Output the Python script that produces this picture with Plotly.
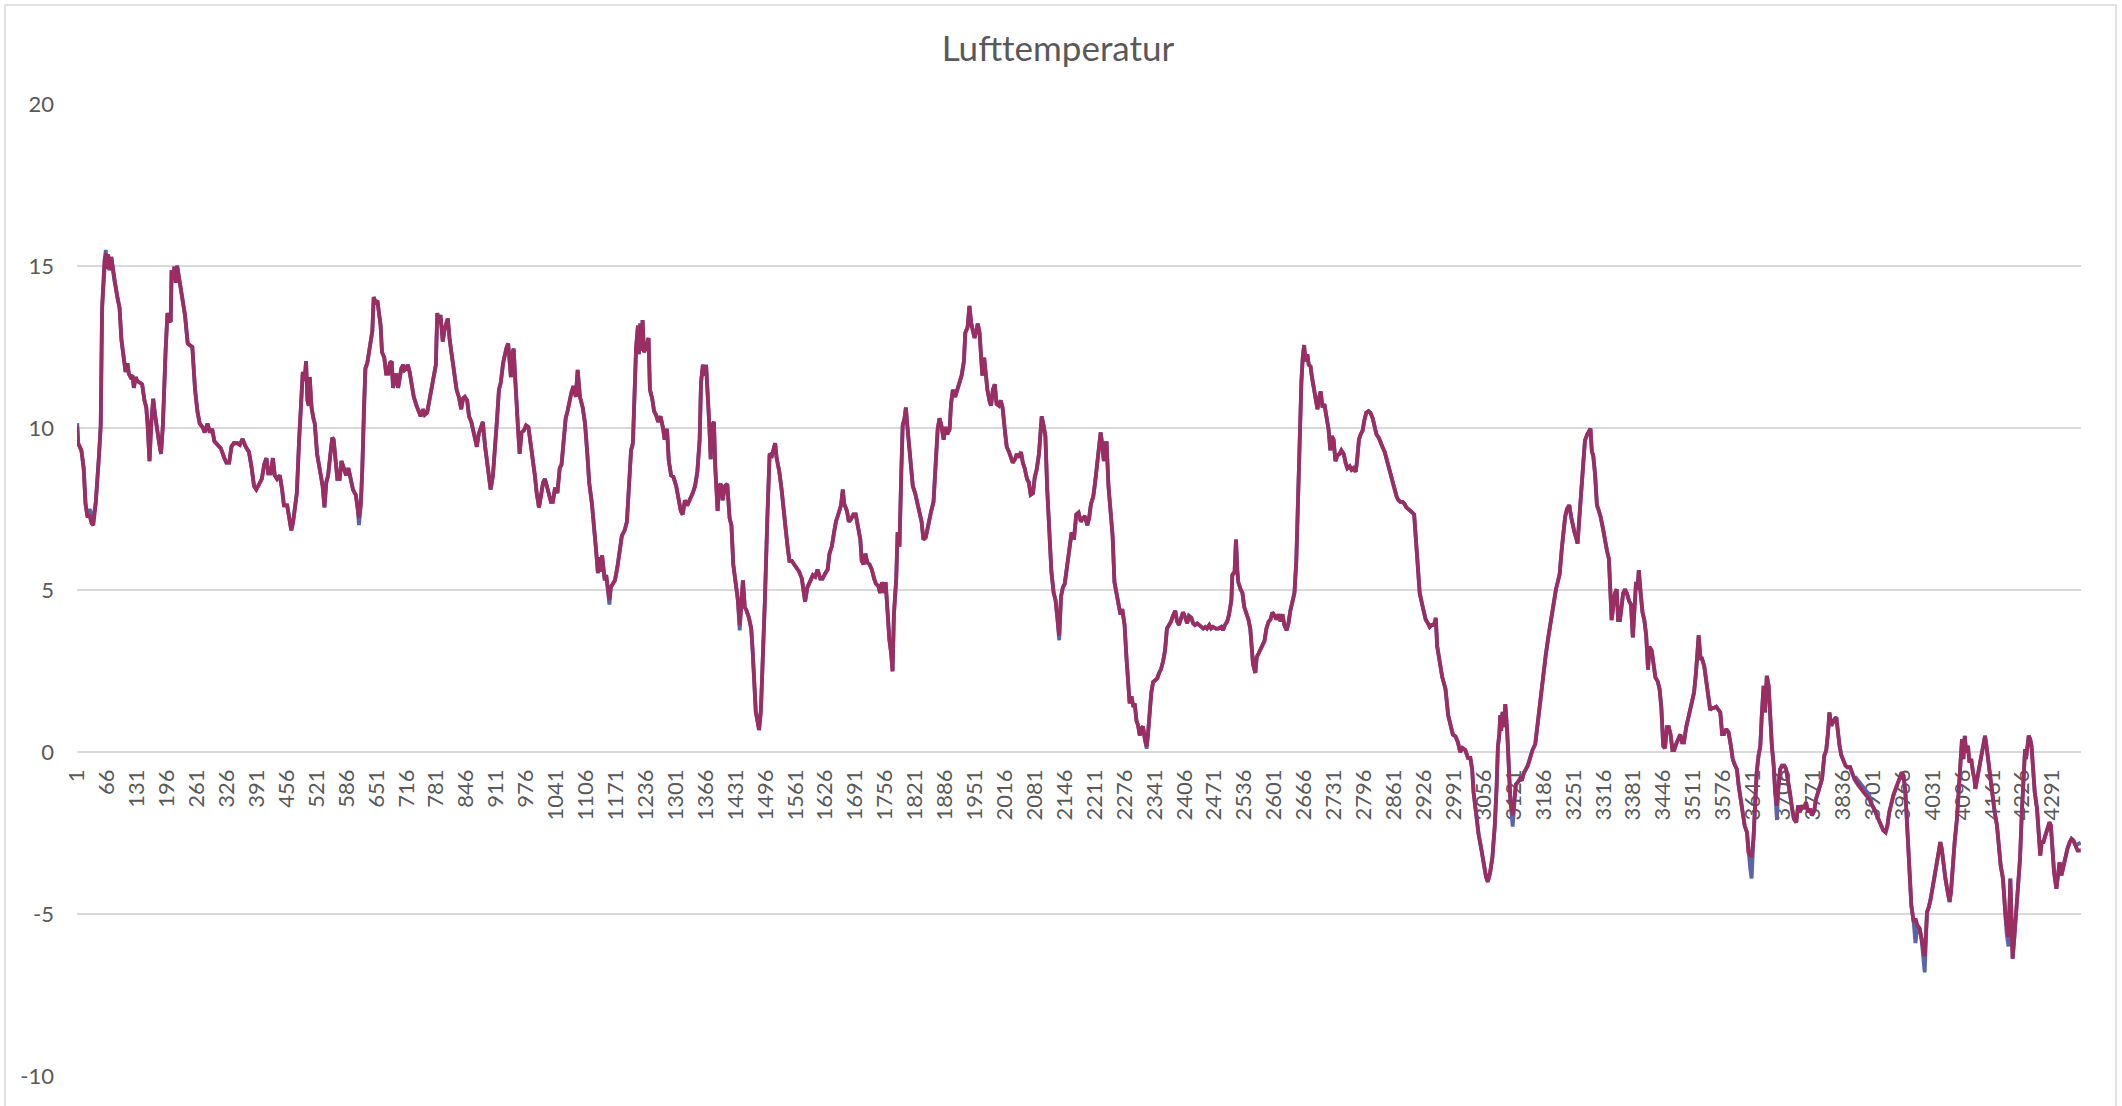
import plotly.graph_objects as go

# ---------------- data ----------------
n_categories = 4353  # number of hourly readings on the category axis

tick_labels = [1, 66, 131, 196, 261, 326, 391, 456, 521, 586, 651, 716, 781, 846, 911, 976,
               1041, 1106, 1171, 1236, 1301, 1366, 1431, 1496, 1561, 1626, 1691, 1756, 1821,
               1886, 1951, 2016, 2081, 2146, 2211, 2276, 2341, 2406, 2471, 2536, 2601, 2666,
               2731, 2796, 2861, 2926, 2991, 3056, 3121, 3186, 3251, 3316, 3381, 3446, 3511,
               3576, 3641, 3706, 3771, 3836, 3901, 3966, 4031, 4096, 4161, 4226, 4291]

# traced turning points of the series (category index, temperature)
idx_a = [1, 3, 10, 15, 19, 23, 28, 32, 36, 41, 48, 52, 55, 60, 63, 65, 68, 71, 75, 81, 88, 93, 97,
         102, 106, 110, 113, 117, 121, 124, 128, 131, 136, 142, 147, 151, 154, 158, 162, 166, 170,
         175, 179, 183, 187, 193, 197, 200, 204, 206, 209, 212, 215, 218, 223, 229, 235, 241, 245,
         251, 257, 262, 267, 273, 278, 284, 289, 294, 299, 305, 313, 320, 325, 331, 336, 341, 349,
         354, 360, 367, 374, 380, 385, 390, 396, 402, 407, 412, 416, 421, 426, 430, 435, 441, 446,
         450, 457, 461, 466, 470, 474, 478, 483, 488, 491, 495, 498, 501, 504, 506, 510, 514, 517,
         522, 526, 530, 534, 538, 542, 546, 551, 555, 558, 562, 566, 571, 575, 580, 585, 590, 595,
         600, 606, 610, 613, 617, 620, 624, 627, 631, 634, 638, 642, 645, 649, 653, 656, 660, 663,
         668, 672, 677, 680, 684, 687, 691, 694, 698, 701, 705, 709, 712, 716, 719, 723, 727, 732,
         738, 742, 747, 752, 756, 761, 766, 772, 777, 780, 783, 787, 790, 792, 795, 799, 803, 806,
         810, 816, 821, 825, 830, 835, 839, 843, 848, 852, 857, 861, 865, 869, 873, 878, 882, 887,
         891, 895, 899, 904, 908, 913, 917, 921, 926, 930, 933, 937, 940, 943, 946, 949, 952, 955,
         959, 962, 966, 971, 976, 981, 985, 989, 995, 999, 1004, 1008, 1013, 1017, 1021, 1026,
         1030, 1034, 1039, 1044, 1049, 1053, 1058, 1062, 1066, 1071, 1075, 1079, 1084, 1088]
val_a = [10.05, 9.53, 9.31, 8.76, 7.66, 7.28, 7.28, 7.06, 7.0, 7.66, 9.09, 10.08, 13.7, 15.14, 15.4,
         14.92, 15.36, 14.87, 15.28, 14.6, 14.04, 13.7, 12.72, 12.17, 11.73, 12.0, 11.68, 11.57,
         11.62, 11.24, 11.57, 11.46, 11.4, 11.35, 10.85, 10.63, 10.08, 8.98, 10.19, 10.9, 10.41,
         9.81, 9.53, 9.2, 10.08, 12.39, 13.55, 13.33, 13.27, 14.87, 14.59, 14.98, 14.48, 15.01,
         14.6, 14.15, 13.49, 12.61, 12.56, 12.5, 11.18, 10.52, 10.14, 10.03, 9.86, 10.14, 9.86,
         9.97, 9.59, 9.48, 9.37, 9.09, 8.93, 8.93, 9.42, 9.53, 9.53, 9.48, 9.66, 9.42, 9.26, 8.76,
         8.21, 8.1, 8.27, 8.43, 8.87, 9.07, 8.6, 8.6, 9.07, 8.54, 8.43, 8.54, 8.1, 7.61, 7.61, 7.33,
         6.84, 7.11, 7.66, 7.99, 9.64, 11.18, 11.73, 11.46, 12.06, 10.85, 10.69, 11.57, 10.63, 10.3,
         10.14, 9.2, 8.76, 8.54, 8.21, 7.55, 8.32, 8.54, 9.2, 9.7, 9.64, 8.98, 8.43, 8.43, 8.98,
         8.76, 8.54, 8.76, 8.43, 8.1, 7.94, 7.55, 7.22, 7.66, 8.65, 10.74, 11.84, 12.0, 12.28,
         12.72, 12.99, 14.04, 13.88, 13.93, 13.66, 13.16, 12.34, 12.17, 11.68, 11.68, 12.0, 12.06,
         11.24, 11.57, 11.68, 11.24, 11.51, 11.84, 11.95, 11.79, 11.84, 11.95, 11.73, 11.4, 10.96,
         10.69, 10.52, 10.36, 10.58, 10.41, 10.47, 10.85, 11.29, 11.57, 11.95, 13.55, 13.22, 13.49,
         13.16, 12.67, 13.05, 13.27, 13.38, 12.72, 12.17, 11.62, 11.18, 10.96, 10.58, 10.91, 10.96,
         10.85, 10.36, 10.19, 9.97, 9.7, 9.42, 9.81, 10.08, 10.19, 9.42, 8.98, 8.43, 8.1, 8.54, 9.2,
         10.3, 11.18, 11.4, 12.0, 12.28, 12.45, 12.61, 12.17, 11.57, 12.28, 12.45, 11.62, 10.63,
         9.86, 9.2, 9.86, 9.92, 10.08, 10.03, 9.64, 9.2, 8.54, 7.99, 7.55, 7.88, 8.32, 8.43, 8.21,
         7.99, 7.72, 7.72, 8.16, 7.99, 8.76, 8.87, 9.86, 10.3, 10.52, 10.96, 11.13, 11.29, 10.96,
         11.79]

idx_b = [1093, 1099, 1104, 1109, 1113, 1119, 1124, 1128, 1132, 1135, 1138, 1141, 1144, 1147, 1150,
         1153, 1157, 1160, 1164, 1169, 1174, 1180, 1184, 1190, 1195, 1199, 1204, 1208, 1211, 1215,
         1219, 1221, 1224, 1227, 1229, 1232, 1237, 1242, 1245, 1250, 1254, 1258, 1263, 1268, 1273,
         1277, 1282, 1286, 1291, 1296, 1302, 1307, 1312, 1316, 1321, 1326, 1332, 1338, 1343, 1348,
         1353, 1356, 1360, 1363, 1367, 1371, 1374, 1377, 1380, 1384, 1387, 1392, 1395, 1399, 1403,
         1408, 1413, 1418, 1422, 1426, 1431, 1436, 1440, 1444, 1447, 1451, 1455, 1460, 1465, 1468,
         1472, 1475, 1478, 1482, 1486, 1490, 1495, 1500, 1505, 1510, 1513, 1517, 1520, 1526, 1531,
         1535, 1539, 1544, 1548, 1553, 1558, 1564, 1569, 1575, 1578, 1582, 1587, 1593, 1599, 1604,
         1609, 1615, 1620, 1626, 1631, 1635, 1640, 1645, 1649, 1654, 1660, 1664, 1667, 1673, 1677,
         1681, 1687, 1692, 1697, 1702, 1705, 1709, 1713, 1717, 1722, 1727, 1732, 1736, 1741, 1745,
         1749, 1754, 1757, 1761, 1765, 1769, 1772, 1775, 1780, 1783, 1787, 1791, 1794, 1798, 1801,
         1804, 1807, 1812, 1816, 1821, 1826, 1830, 1835, 1839, 1844, 1848, 1852, 1856, 1861, 1866,
         1870, 1874, 1878, 1883, 1887, 1891, 1896, 1899, 1903, 1908, 1913, 1917, 1922, 1927, 1930,
         1935, 1939, 1943, 1946, 1950, 1954, 1957, 1961, 1964, 1967, 1971, 1975, 1978, 1983, 1986,
         1990, 1994, 1998, 2003, 2007, 2011, 2016, 2020, 2025, 2029, 2033, 2038, 2042, 2046, 2051,
         2055, 2059, 2064, 2068, 2072, 2077, 2081, 2085, 2090, 2093, 2096, 2100, 2104, 2108, 2113,
         2117, 2122, 2126, 2130, 2134, 2138, 2142, 2146, 2151, 2155]
val_b = [10.96, 10.63, 10.14, 9.2, 8.32, 7.66, 7.0, 6.23, 5.52, 6.01, 5.57, 6.07, 5.68, 5.3, 5.46,
         5.08, 4.69, 5.08, 5.19, 5.3, 5.68, 6.23, 6.67, 6.84, 7.11, 8.1, 9.31, 9.53, 11.18, 12.5,
         13.16, 12.28, 13.22, 12.39, 13.33, 12.34, 12.5, 12.78, 11.18, 10.9, 10.52, 10.41, 10.19,
         10.36, 10.03, 9.64, 9.97, 8.98, 8.54, 8.49, 8.21, 7.88, 7.44, 7.33, 7.77, 7.61, 7.77, 7.99,
         8.21, 8.65, 9.64, 11.4, 11.95, 11.62, 11.95, 11.07, 10.08, 9.04, 10.08, 10.19, 8.76, 7.44,
         8.21, 8.27, 7.77, 8.21, 8.27, 7.22, 7.0, 5.79, 5.24, 4.69, 3.92, 4.69, 5.3, 4.47, 4.36,
         4.14, 3.81, 3.15, 2.05, 1.23, 1.01, 0.68, 1.28, 2.6, 4.8, 7.22, 9.2, 9.15, 9.31, 9.53, 9.09,
         8.65, 8.1, 7.66, 7.0, 6.34, 5.9, 5.9, 5.79, 5.68, 5.57, 5.35, 4.97, 4.64, 5.08, 5.3, 5.46,
         5.41, 5.63, 5.35, 5.35, 5.52, 5.63, 6.12, 6.34, 6.78, 7.11, 7.33, 7.61, 8.1, 7.66, 7.44,
         7.11, 7.17, 7.33, 7.33, 7.0, 6.56, 5.9, 5.79, 6.12, 5.85, 5.79, 5.63, 5.35, 5.19, 5.13,
         4.91, 5.24, 4.91, 5.24, 4.25, 3.48, 3.04, 2.49, 4.25, 5.35, 6.78, 6.34, 8.65, 10.08, 10.3,
         10.63, 10.08, 9.64, 8.98, 8.21, 7.99, 7.66, 7.44, 7.11, 6.56, 6.62, 6.89, 7.22, 7.44, 7.72,
         8.76, 9.97, 10.3, 10.08, 9.64, 10.03, 9.81, 9.97, 10.74, 11.18, 10.96, 11.18, 11.4, 11.62,
         12.06, 12.94, 13.11, 13.77, 13.22, 12.99, 12.78, 12.99, 13.22, 12.94, 12.17, 11.62, 12.17,
         11.4, 11.18, 10.8, 10.69, 11.18, 11.35, 10.74, 10.69, 10.85, 10.63, 9.92, 9.42, 9.26,
         9.09, 8.93, 9.04, 9.2, 9.09, 9.26, 8.93, 8.76, 8.43, 8.32, 7.94, 7.99, 8.49, 8.71, 9.2,
         9.97, 10.36, 10.08, 9.75, 8.1, 6.34, 5.57, 4.91, 4.69, 4.14, 3.59, 4.8, 5.08, 5.19, 5.79,
         6.23]

idx_c = [2161, 2166, 2171, 2176, 2181, 2186, 2190, 2195, 2199, 2203, 2208, 2212, 2216, 2220, 2224,
         2227, 2231, 2234, 2237, 2241, 2245, 2250, 2254, 2258, 2263, 2267, 2271, 2276, 2280, 2284,
         2287, 2291, 2295, 2298, 2302, 2305, 2309, 2313, 2316, 2320, 2324, 2327, 2331, 2334, 2338,
         2342, 2347, 2351, 2355, 2360, 2364, 2368, 2373, 2377, 2381, 2386, 2390, 2394, 2399, 2403,
         2408, 2412, 2416, 2421, 2425, 2429, 2434, 2438, 2442, 2447, 2451, 2455, 2460, 2464, 2468,
         2474, 2480, 2486, 2490, 2494, 2499, 2503, 2508, 2510, 2515, 2518, 2521, 2523, 2528, 2532,
         2536, 2541, 2545, 2549, 2552, 2555, 2560, 2563, 2567, 2571, 2576, 2580, 2584, 2589, 2593,
         2597, 2602, 2606, 2610, 2615, 2619, 2623, 2628, 2632, 2636, 2641, 2645, 2649, 2652, 2656,
         2660, 2663, 2666, 2669, 2673, 2676, 2680, 2683, 2687, 2691, 2695, 2699, 2702, 2706, 2710,
         2715, 2719, 2723, 2726, 2730, 2734, 2738, 2743, 2747, 2752, 2756, 2760, 2765, 2769, 2773,
         2778, 2781, 2785, 2789, 2793, 2797, 2801, 2806, 2810, 2815, 2819, 2823, 2828, 2832, 2836,
         2841, 2845, 2849, 2854, 2858, 2862, 2867, 2871, 2875, 2880, 2884, 2888, 2893, 2897, 2901,
         2905, 2909, 2913, 2917, 2922, 2926, 2930, 2935, 2939, 2943, 2948, 2952, 2955]
val_c = [6.78, 6.56, 7.33, 7.39, 7.11, 7.22, 7.28, 7.0, 7.22, 7.66, 7.88, 8.32, 8.76, 9.42, 9.86,
         9.53, 8.98, 9.53, 9.53, 8.21, 7.44, 6.67, 5.24, 4.91, 4.58, 4.25, 4.41, 3.92, 2.93, 1.94,
         1.5, 1.72, 1.39, 1.5, 0.95, 0.84, 0.51, 0.73, 0.79, 0.4, 0.18, 0.57, 1.28, 1.83, 2.16, 2.22,
         2.27, 2.44, 2.55, 2.82, 3.15, 3.81, 3.92, 4.03, 4.2, 4.36, 4.03, 3.92, 4.14, 4.31, 4.14,
         3.97, 4.2, 4.14, 3.97, 3.92, 3.97, 3.92, 3.86, 3.81, 3.86, 3.81, 3.92, 3.81, 3.86, 3.81,
         3.81, 3.86, 3.76, 3.92, 4.03, 4.25, 4.69, 5.46, 5.57, 6.56, 5.57, 5.24, 5.02, 4.91, 4.47,
         4.25, 4.09, 3.81, 3.37, 2.71, 2.44, 2.93, 3.04, 3.15, 3.26, 3.43, 3.81, 4.03, 4.09, 4.31,
         4.2, 4.09, 4.25, 4.03, 4.25, 3.92, 3.76, 3.97, 4.36, 4.64, 4.91, 5.9, 7.55, 9.75, 11.4,
         12.17, 12.56, 12.06, 12.28, 11.95, 11.9, 11.57, 11.18, 10.96, 10.58, 10.96, 11.13, 10.63,
         10.74, 10.3, 9.97, 9.31, 9.75, 9.64, 8.98, 9.15, 9.2, 9.31, 9.2, 8.93, 8.76, 8.82, 8.71,
         8.76, 8.65, 8.98, 9.64, 9.81, 9.92, 10.25, 10.47, 10.52, 10.47, 10.3, 9.97, 9.81, 9.7,
         9.53, 9.42, 9.26, 9.04, 8.87, 8.65, 8.32, 8.1, 7.88, 7.77, 7.72, 7.72, 7.66, 7.55, 7.5,
         7.44, 7.39, 7.33, 6.56, 5.68, 4.91, 4.58, 4.31, 4.09, 3.97, 3.86, 3.92, 3.92, 4.14, 3.26]

idx_d = [2966, 2973, 2979, 2984, 2989, 2995, 3000, 3005, 3010, 3016, 3022, 3027, 3031, 3034, 3039,
         3045, 3051, 3056, 3061, 3065, 3070, 3075, 3080, 3084, 3087, 3090, 3092, 3094, 3097, 3100,
         3103, 3107, 3110, 3114, 3119, 3123, 3126, 3130, 3135, 3139, 3143, 3148, 3152, 3157, 3162,
         3168, 3174, 3180, 3185, 3191, 3197, 3203, 3208, 3213, 3217, 3221, 3226, 3229, 3233, 3237,
         3242, 3246, 3250, 3253, 3257, 3260, 3264, 3268, 3272, 3276, 3281, 3285, 3288, 3291, 3294,
         3298, 3302, 3305, 3310, 3315, 3320, 3324, 3328, 3331, 3334, 3338, 3341, 3345, 3348, 3352,
         3356, 3359, 3363, 3367, 3372, 3376, 3380, 3383, 3387, 3390, 3393, 3397, 3401, 3405, 3409,
         3413, 3416, 3421, 3425, 3429, 3434, 3438, 3442, 3446, 3450, 3454, 3458, 3462, 3466, 3470,
         3474, 3479, 3483, 3487, 3491, 3496, 3500, 3504, 3509, 3513, 3517, 3520, 3523, 3527, 3530,
         3535, 3539, 3543, 3548, 3552, 3556, 3561]
val_d = [2.31, 1.95, 1.13, 0.77, 0.54, 0.48, 0.3, 0.0, 0.12, 0.06, -0.18, -0.18, -0.53, -1.24, -1.95,
         -2.54, -3.01, -3.48, -3.84, -4.01, -3.72, -3.25, -2.3, -1.12, 0.18, 0.54, 1.13, 0.65, 1.24,
         0.77, 1.48, 0.65, -0.53, -1.48, -1.95, -1.48, -1.0, -0.94, -0.82, -0.88, -0.65, -0.53,
         -0.41, -0.18, 0.06, 0.24, 1.0, 1.59, 2.3, 3.01, 3.6, 4.19, 4.66, 5.02, 5.25, 5.49, 6.32,
         6.79, 7.26, 7.5, 7.62, 7.26, 6.91, 6.79, 6.61, 6.43, 7.26, 8.09, 8.91, 9.62, 9.8, 9.92,
         9.98, 9.27, 9.15, 8.56, 7.62, 7.5, 7.26, 6.91, 6.43, 6.2, 5.96, 5.02, 4.07, 4.55, 4.9,
         5.02, 4.07, 4.07, 4.55, 4.9, 5.02, 4.9, 4.66, 4.55, 3.54, 4.55, 5.25, 5.02, 5.61, 4.9,
         4.31, 4.07, 3.6, 2.54, 3.25, 3.13, 2.77, 2.3, 2.18, 1.95, 1.36, 0.18, 0.12, 0.77, 0.77,
         0.54, 0.06, 0.06, 0.24, 0.41, 0.54, 0.3, 0.3, 0.77, 1.01, 1.18, 1.48, 1.84, 2.42, 3.01,
         3.6, 2.89, 2.89, 2.66, 2.18, 1.84, 1.3, 1.36, 1.36, 1.4]

idx_e = [3570, 3574, 3578, 3583, 3588, 3593, 3597, 3601, 3606, 3610, 3615, 3619, 3623, 3628, 3631,
         3635, 3638, 3642, 3646, 3649, 3653, 3657, 3660, 3664, 3667, 3671, 3675, 3678, 3682, 3686,
         3689, 3693, 3696, 3700, 3704, 3709, 3713, 3717, 3722, 3726, 3730, 3735, 3739, 3743, 3748,
         3752, 3756, 3761, 3765, 3769, 3774, 3778, 3783, 3787, 3791, 3796, 3800, 3804, 3807, 3811,
         3814, 3818, 3822, 3825, 3829, 3833, 3838, 3842, 3846, 3852, 3856, 3861, 3865, 3870, 3875,
         3881, 3887, 3893, 3898, 3904, 3910, 3916, 3920, 3924, 3929, 3933, 3937, 3942, 3946, 3951,
         3955, 3959, 3964, 3968, 3972, 3977, 3981, 3985, 3990, 3994, 3998, 4003, 4007, 4011, 4014,
         4019, 4023, 4027, 4032, 4036, 4040, 4045, 4048, 4051, 4055, 4059, 4064, 4068, 4071, 4075,
         4079, 4084, 4088, 4092, 4095, 4098, 4101, 4104, 4108, 4111, 4115, 4119, 4122, 4124, 4129,
         4133, 4137, 4142, 4145, 4149, 4153, 4158, 4162, 4166, 4171, 4175, 4179, 4184, 4187, 4190,
         4192, 4196, 4200, 4203, 4205, 4209, 4213, 4217, 4221, 4225, 4229, 4232, 4234, 4237, 4240,
         4243, 4246, 4249, 4253, 4258, 4261, 4265, 4268, 4272, 4276, 4281, 4285, 4288, 4291, 4295,
         4300, 4303, 4307, 4311, 4316, 4320, 4324, 4329, 4333, 4337, 4342, 4346, 4353]
val_e = [1.22, 0.55, 0.55, 0.71, 0.6, 0.19, -0.22, -0.38, -0.53, -1.05, -1.46, -1.87, -2.28, -2.48,
         -3.1, -3.2, -3.2, -2.69, -1.46, -0.64, -0.12, 0.19, 1.11, 2.04, 1.22, 2.35, 2.04, 1.11,
         0.19, -0.42, -1.24, -1.65, -1.03, -0.53, -0.42, -0.42, -0.53, -0.84, -1.34, -1.75, -2.07,
         -2.17, -1.65, -1.86, -1.65, -1.75, -1.55, -1.86, -1.75, -1.96, -1.81, -1.45, -1.24, -1.03,
         -0.83, -0.11, 0.04, 0.6, 1.22, 0.81, 0.91, 1.01, 1.07, 0.6, 0.19, -0.11, -0.32, -0.42,
         -0.47, -0.47, -0.63, -0.83, -0.93, -1.03, -1.14, -1.24, -1.34, -1.45, -1.6, -1.75, -1.96,
         -2.17, -2.27, -2.42, -2.48, -2.27, -1.86, -1.55, -1.34, -1.14, -0.93, -0.83, -0.63, -0.73,
         -1.24, -2.48, -3.81, -4.74, -5.25, -5.14, -5.35, -5.45, -5.76, -6.1, -6.3, -4.94, -4.78,
         -4.53, -4.12, -3.81, -3.4, -2.99, -2.78, -2.99, -3.5, -3.91, -4.33, -4.63, -4.33, -3.5,
         -2.78, -2.07, -1.24, -0.32, 0.4, -0.22, 0.5, -0.01, 0.19, -0.32, -0.22, -0.63, -0.83,
         -1.14, -0.73, -0.42, -0.11, 0.19, 0.5, 0.09, -0.42, -0.83, -1.45, -1.86, -2.27, -2.89,
         -3.5, -3.91, -4.74, -5.14, -5.35, -5.7, -3.91, -5.35, -6.38, -5.66, -4.94, -4.33, -3.3,
         -1.86, -0.42, 0.09, -0.22, 0.19, 0.5, 0.4, 0.19, -0.42, -1.24, -1.75, -2.58, -3.2, -2.78,
         -2.78, -2.58, -2.38, -2.17, -2.27, -2.89, -3.71, -4.22, -3.81, -3.4, -3.81, -3.5, -3.2,
         -2.99, -2.78, -2.68, -2.73, -2.89, -3.04, -3.04]

# second sensor (blue): identical readings except at these categories
blue_differences = {1: 10.15, 28: 7.5, 32: 7.3, 36: 7.25, 63: 15.5, 613: 7.0, 1157: 4.55,
                    1440: 3.75, 2134: 3.45, 2324: 0.1, 3119: -2.3, 3635: -3.6, 3638: -3.9,
                    3693: -2.1, 3865: -0.8, 3870: -0.9, 3875: -1.0, 3881: -1.1, 3887: -1.2,
                    3893: -1.3, 3994: -5.9, 4011: -6.4, 4014: -6.8, 4192: -5.6, 4196: -6.0,
                    4346: -2.85, 4353: -2.8}

series_names = ["Serie 1", "Serie 2"]
title_text = "Lufttemperatur"

# ---------------- assemble ----------------
cat_idx = idx_a + idx_b + idx_c + idx_d + idx_e
temp_red = val_a + val_b + val_c + val_d + val_e
temp_blue = [blue_differences.get(c, v) for c, v in zip(cat_idx, temp_red)]

FONT = "Lato"
GREY_TXT = "#595959"
GRID = "#D9D9D9"

fig = go.Figure()
fig.add_trace(go.Scatter(x=cat_idx, y=temp_blue, mode="lines", name=series_names[0],
                         line=dict(color="#5A64A6", width=3.8)))
fig.add_trace(go.Scatter(x=cat_idx, y=temp_red, mode="lines", name=series_names[1],
                         line=dict(color="#9B2D62", width=3.8)))

W, H = 2122, 1106
L, R, T, B = 77, 2122 - 2081, 104, 1106 - 1076
pw, ph = W - L - R, H - T - B

fig.update_layout(
    width=W, height=H,
    margin=dict(l=L, r=R, t=T, b=B, pad=0),
    paper_bgcolor="white", plot_bgcolor="white",
    showlegend=False,
    title=dict(text=title_text, x=1058 / W, xanchor="center", xref="container",
               y=1 - 49 / H, yanchor="middle", yref="container",
               font=dict(family=FONT, size=35, color=GREY_TXT)),
    font=dict(family=FONT, color=GREY_TXT),
)

fig.update_xaxes(
    range=[0.5, n_categories + 0.5],
    tickmode="array", tickvals=tick_labels, ticktext=[str(t) for t in tick_labels],
    tickangle=-90, tickfont=dict(family=FONT, size=22, color=GREY_TXT),
    showgrid=False, zeroline=False, showline=False, ticks="",
    anchor="free", position=1 / 3, layer="below traces",
    ticklabelstandoff=12,
)
fig.update_yaxes(
    range=[-10, 20], tickmode="array", tickvals=[-10, -5, 0, 5, 10, 15, 20],
    ticktext=["-10", "-5", "0", "5", "10", "15", "20"],
    tickfont=dict(family=FONT, size=22, color=GREY_TXT),
    showgrid=True, gridcolor=GRID, gridwidth=2, zeroline=False, showline=False, ticks="",
    ticklabelstandoff=22, layer="below traces",
)

# chart-area border (Excel style)
fig.add_shape(type="rect", xref="paper", yref="paper",
              x0=(5 - L) / pw, x1=(2116 - L) / pw,
              y0=(H - B - 1120) / ph, y1=(H - B - 5) / ph,
              line=dict(color=GRID, width=1.5), fillcolor="rgba(0,0,0,0)", layer="below")

fig.write_html("out.html", config={"displayModeBar": False},
               post_script="document.body.style.margin='0';document.body.style.overflow='hidden';")
